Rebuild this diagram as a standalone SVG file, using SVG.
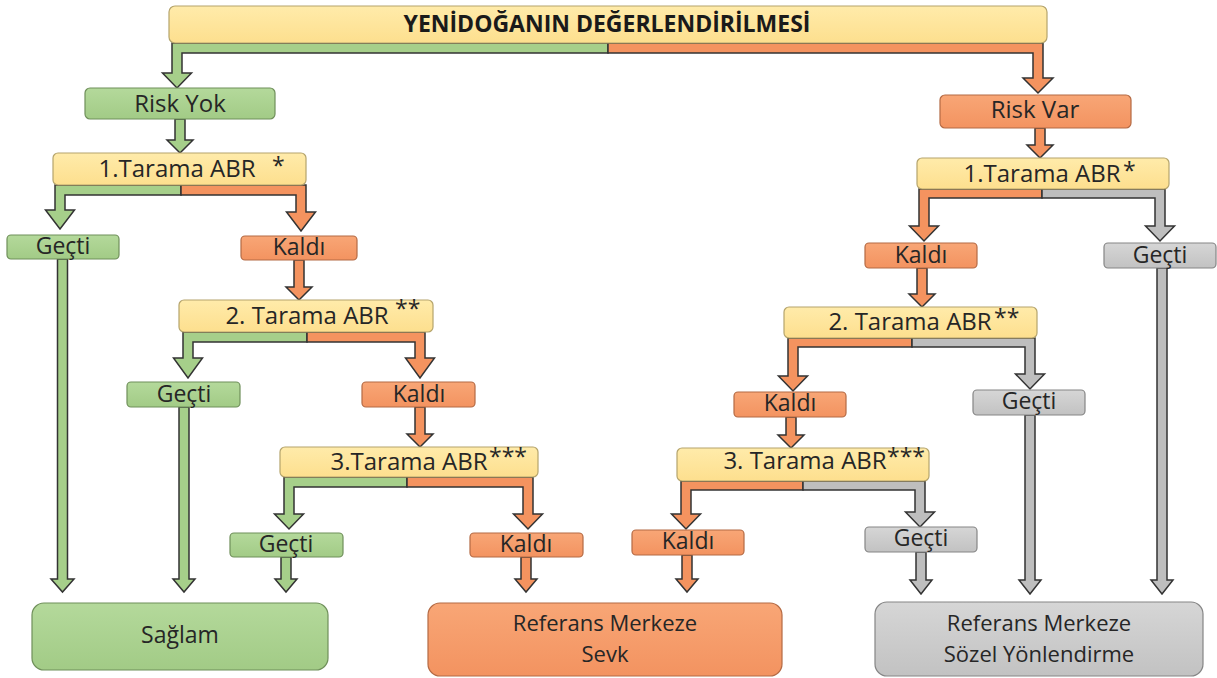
<svg xmlns="http://www.w3.org/2000/svg" width="1217" height="678" viewBox="0 0 1217 678">
  <defs>
    <linearGradient id="gYellow" x1="0" y1="0" x2="0" y2="1">
      <stop offset="0" stop-color="#FFEBAA"/>
      <stop offset="1" stop-color="#FDDF8E"/>
    </linearGradient>
    <linearGradient id="gGreen" x1="0" y1="0" x2="0" y2="1">
      <stop offset="0" stop-color="#B4D99B"/>
      <stop offset="1" stop-color="#A2CB86"/>
    </linearGradient>
    <linearGradient id="gOrange" x1="0" y1="0" x2="0" y2="1">
      <stop offset="0" stop-color="#F8A676"/>
      <stop offset="1" stop-color="#F39360"/>
    </linearGradient>
    <linearGradient id="gGray" x1="0" y1="0" x2="0" y2="1">
      <stop offset="0" stop-color="#D6D6D6"/>
      <stop offset="1" stop-color="#C2C2C2"/>
    </linearGradient>
  </defs>
  <style>
    text { font-family: "Open Sans", "Noto Sans", "DejaVu Sans", sans-serif; fill: #262626; }
    .lbl { font-size: 23px; text-anchor: middle; }
    .scr { font-size: 24px; text-anchor: middle; }
    .out { font-size: 22px; text-anchor: middle; }
    .star { font-size: 23px; text-anchor: start; }
    .title { font-size: 23px; font-weight: bold; text-anchor: middle; fill: #1a1a1a; }
    .nYellow { fill: url(#gYellow); stroke: #B5A46C; stroke-width: 1.2; }
    .nGreen { fill: url(#gGreen); stroke: #6F8F5A; stroke-width: 1.2; }
    .nOrange { fill: url(#gOrange); stroke: #B46A44; stroke-width: 1.2; }
    .nGray { fill: url(#gGray); stroke: #858585; stroke-width: 1.2; }
    .aGreen { fill: #A6CF8A; stroke: #333; stroke-width: 1.5; stroke-linejoin: miter; }
    .aOrange { fill: #F4935F; stroke: #333; stroke-width: 1.5; stroke-linejoin: miter; }
    .aGray { fill: #BEBEBE; stroke: #333; stroke-width: 1.5; stroke-linejoin: miter; }
  </style>
  <rect width="1217" height="678" fill="#ffffff"/>

  <!-- block-arrow connectors -->
  <g id="connectors">
    <!-- header split -->
    <path class="aGreen" d="M608,43 H172 V73 H162.5 L177,88 L191.5,73 H182 V53 H608 Z"/>
    <path class="aOrange" d="M608,43 H1043 V78 H1053 L1038,93 L1023,78 H1033 V53 H608 Z"/>
    <!-- straight links -->
    <path class="aGreen" d="M175,119 V140 H167 L180,153 L193,140 H185 V119 Z"/>
    <path class="aOrange" d="M1035,128 V145 H1027 L1040,158 L1053,145 H1045 V128 Z"/>
    <!-- left 1st screening split -->
    <path class="aGreen" d="M181,185 H55 V210 H45.5 L60,229 L74.5,210 H65 V195 H181 Z"/>
    <path class="aOrange" d="M181,185 H306 V212 H315.5 L301,231 L286.5,212 H296 V195 H181 Z"/>
    <path class="aOrange" d="M294,260 V287 H286 L299,300 L312,287 H304 V260 Z"/>
    <!-- left 2nd screening split -->
    <path class="aGreen" d="M307,332 H183 V358 H173.5 L188,378 L202.5,358 H193 V342 H307 Z"/>
    <path class="aOrange" d="M307,332 H425 V358 H434.5 L420,378 L405.5,358 H415 V342 H307 Z"/>
    <path class="aOrange" d="M415,407 V434 H407 L420,447 L433,434 H425 V407 Z"/>
    <!-- left 3rd screening split -->
    <path class="aGreen" d="M407,477 H284 V514 H274.5 L289,529 L303.5,514 H294 V487 H407 Z"/>
    <path class="aOrange" d="M407,477 H533 V514 H542.5 L528,529 L513.5,514 H523 V487 H407 Z"/>
    <!-- right 1st screening split -->
    <path class="aOrange" d="M1042,189 H919 V226 H909.5 L924,241 L938.5,226 H929 V198 H1042 Z"/>
    <path class="aGray" d="M1042,189 H1165 V226 H1174.5 L1160,241 L1145.5,226 H1155 V198 H1042 Z"/>
    <path class="aOrange" d="M917,268 V294 H909 L922,307 L935,294 H927 V268 Z"/>
    <!-- right 2nd screening split -->
    <path class="aOrange" d="M912,338 H788 V376 H778.5 L793,391 L807.5,376 H798 V347 H912 Z"/>
    <path class="aGray" d="M912,338 H1035 V374 H1044.5 L1030,389 L1015.5,374 H1025 V347 H912 Z"/>
    <path class="aOrange" d="M786,417 V435 H778 L791,448 L804,435 H796 V417 Z"/>
    <!-- right 3rd screening split -->
    <path class="aOrange" d="M803,481 H681 V514 H671.5 L686,529 L700.5,514 H691 V490 H803 Z"/>
    <path class="aGray" d="M803,481 H925 V512 H934.5 L920,527 L905.5,512 H915 V490 H803 Z"/>
    <!-- into outcome boxes -->
    <path class="aGreen" d="M57.5,259 V579 H51 L62.5,592 L74,579 H67.5 V259 Z"/>
    <path class="aGreen" d="M179,407 V579 H173 L184,592 L195,579 H189 V407 Z"/>
    <path class="aGreen" d="M281,557 V579 H275 L286,592 L297,579 H291 V557 Z"/>
    <path class="aOrange" d="M521,557 V579 H515 L526,592 L537,579 H531 V557 Z"/>
    <path class="aOrange" d="M682,555 V579 H676 L687,592 L698,579 H692 V555 Z"/>
    <path class="aGray" d="M916,552 V580 H910 L921,594 L932,580 H926 V552 Z"/>
    <path class="aGray" d="M1025,415 V580 H1019 L1030,594 L1041,580 H1035 V415 Z"/>
    <path class="aGray" d="M1157,268 V580 H1151 L1162,594 L1173,580 H1167 V268 Z"/>
  </g>

  <!-- header -->
  <g id="n-header">
    <rect class="nYellow" x="169" y="6" width="878" height="37" rx="6"/>
    <text class="title" x="607" y="32">YENİDOĞANIN DEĞERLENDİRİLMESİ</text>
  </g>

  <!-- left branch: no risk -->
  <g id="n-risk-yok">
    <rect class="nGreen" x="85" y="88" width="190" height="31" rx="5"/>
    <text class="scr" x="180" y="112">Risk Yok</text>
  </g>
  <g id="n-l-tarama1">
    <rect class="nYellow" x="53" y="153" width="253" height="32" rx="5"/>
    <text class="scr" x="177" y="177">1.Tarama ABR</text>
    <text class="star" x="272" y="174">*</text>
  </g>
  <g id="n-l-gecti1">
    <rect class="nGreen" x="7" y="235" width="112" height="24" rx="4"/>
    <text class="lbl" x="63" y="254">Geçti</text>
  </g>
  <g id="n-l-kaldi1">
    <rect class="nOrange" x="241" y="236" width="116" height="24" rx="4"/>
    <text class="lbl" x="299" y="255">Kaldı</text>
  </g>
  <g id="n-l-tarama2">
    <rect class="nYellow" x="179" y="300" width="254" height="32" rx="5"/>
    <text class="scr" x="307" y="324">2. Tarama ABR</text>
    <text class="star" x="395" y="317">**</text>
  </g>
  <g id="n-l-gecti2">
    <rect class="nGreen" x="127" y="382" width="113" height="25" rx="4"/>
    <text class="lbl" x="184" y="402">Geçti</text>
  </g>
  <g id="n-l-kaldi2">
    <rect class="nOrange" x="362" y="382" width="113" height="25" rx="4"/>
    <text class="lbl" x="419" y="402">Kaldı</text>
  </g>
  <g id="n-l-tarama3">
    <rect class="nYellow" x="280" y="447" width="258" height="30" rx="5"/>
    <text class="scr" x="409" y="470">3.Tarama ABR</text>
    <text class="star" x="489" y="465">***</text>
  </g>
  <g id="n-l-gecti3">
    <rect class="nGreen" x="230" y="533" width="113" height="24" rx="4"/>
    <text class="lbl" x="286" y="552">Geçti</text>
  </g>
  <g id="n-l-kaldi3">
    <rect class="nOrange" x="470" y="533" width="113" height="24" rx="4"/>
    <text class="lbl" x="526" y="552">Kaldı</text>
  </g>

  <!-- right branch: risk present -->
  <g id="n-risk-var">
    <rect class="nOrange" x="940" y="95" width="191" height="33" rx="5"/>
    <text class="scr" x="1035" y="118">Risk Var</text>
  </g>
  <g id="n-r-tarama1">
    <rect class="nYellow" x="917" y="158" width="252" height="31" rx="5"/>
    <text class="scr" x="1042" y="182">1.Tarama ABR</text>
    <text class="star" x="1123" y="179">*</text>
  </g>
  <g id="n-r-kaldi1">
    <rect class="nOrange" x="865" y="243" width="112" height="25" rx="4"/>
    <text class="lbl" x="921" y="263">Kaldı</text>
  </g>
  <g id="n-r-gecti1">
    <rect class="nGray" x="1104" y="243" width="112" height="25" rx="4"/>
    <text class="lbl" x="1160" y="263">Geçti</text>
  </g>
  <g id="n-r-tarama2">
    <rect class="nYellow" x="784" y="307" width="253" height="31" rx="5"/>
    <text class="scr" x="910" y="330">2. Tarama ABR</text>
    <text class="star" x="994" y="326">**</text>
  </g>
  <g id="n-r-kaldi2">
    <rect class="nOrange" x="734" y="392" width="112" height="25" rx="4"/>
    <text class="lbl" x="790" y="411">Kaldı</text>
  </g>
  <g id="n-r-gecti2">
    <rect class="nGray" x="973" y="390" width="112" height="25" rx="4"/>
    <text class="lbl" x="1029" y="409">Geçti</text>
  </g>
  <g id="n-r-tarama3">
    <rect class="nYellow" x="677" y="448" width="252" height="33" rx="5"/>
    <text class="scr" x="805" y="469">3. Tarama ABR</text>
    <text class="star" x="887" y="465">***</text>
  </g>
  <g id="n-r-kaldi3">
    <rect class="nOrange" x="632" y="530" width="112" height="25" rx="4"/>
    <text class="lbl" x="688" y="549">Kaldı</text>
  </g>
  <g id="n-r-gecti3">
    <rect class="nGray" x="865" y="527" width="112" height="25" rx="4"/>
    <text class="lbl" x="921" y="546">Geçti</text>
  </g>

  <!-- outcomes -->
  <g id="n-saglam">
    <rect class="nGreen" x="32" y="603" width="296" height="67" rx="12"/>
    <text class="lbl" x="180" y="643">Sağlam</text>
  </g>
  <g id="n-sevk">
    <rect class="nOrange" x="428" y="603" width="354" height="73" rx="12"/>
    <text class="out" x="605" y="631">Referans Merkeze</text>
    <text class="out" x="605" y="662">Sevk</text>
  </g>
  <g id="n-sozel">
    <rect class="nGray" x="875" y="602" width="328" height="74" rx="12"/>
    <text class="out" x="1039" y="631">Referans Merkeze</text>
    <text class="out" x="1039" y="662">Sözel Yönlendirme</text>
  </g>
</svg>
